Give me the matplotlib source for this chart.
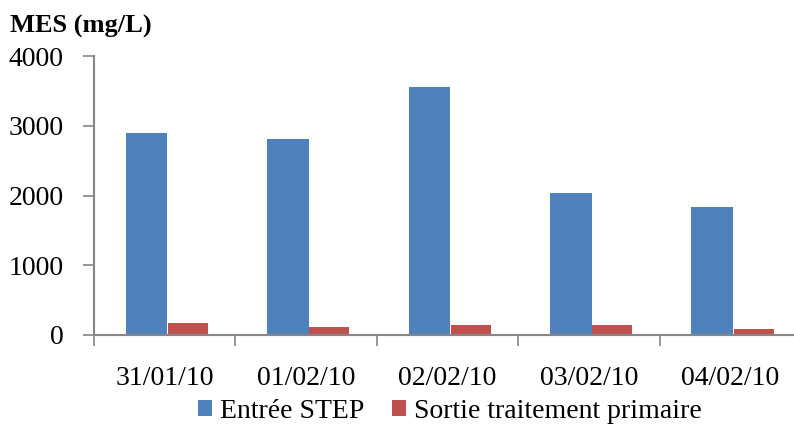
import matplotlib
matplotlib.use('Agg')
import matplotlib.pyplot as plt
import numpy as np

# Data
dates = ['31/01/10', '01/02/10', '02/02/10', '03/02/10', '04/02/10']
entree_step = [2900, 2805, 3552, 2035, 1840]
sortie_primaire = [172, 120, 148, 148, 88]
series_labels = ['Entrée STEP', 'Sortie traitement primaire']
y_ticks = [0, 1000, 2000, 3000, 4000]

plt.rcParams['font.family'] = ['Liberation Serif', 'DejaVu Serif']

fig = plt.figure(figsize=(7.94, 4.28), dpi=100)
# axes extends a bit past the right edge, like the original
ax = fig.add_axes([94 / 794, 93 / 428, 707 / 794, 279 / 428])

x = np.arange(len(dates))
ax.bar(x - 0.128, entree_step, width=0.295, color='#4F81BD', label=series_labels[0])
ax.bar(x + 0.165, sortie_primaire, width=0.283, color='#C0504D', label=series_labels[1])

ax.set_xlim(-0.5, len(dates) - 0.5)
ax.set_ylim(0, 4000)
ax.set_yticks(y_ticks)
ax.set_xticks(x)
ax.set_xticklabels(dates)
ax.set_xticks(np.arange(len(dates)) - 0.5, minor=True)

for s in ['top', 'right']:
    ax.spines[s].set_visible(False)
for s in ['left', 'bottom']:
    ax.spines[s].set_color('#868686')
    ax.spines[s].set_linewidth(1.5)

ax.tick_params(axis='y', direction='out', length=8, width=1.2, color='#868686',
               labelsize=20, pad=14)
ax.tick_params(axis='x', which='major', length=0, labelsize=20, pad=22)
ax.tick_params(axis='x', which='minor', direction='out', length=8, width=1.2,
               color='#868686')

fig.text(10 / 794, 1 - 26 / 428, 'MES (mg/L)', fontsize=19, fontweight='bold',
         va='center', ha='left')

ax.legend(loc='center', bbox_to_anchor=(450 / 794, 1 - 411 / 428),
          bbox_transform=fig.transFigure, ncol=2, frameon=False, fontsize=20,
          handlelength=0.5, handleheight=0.5, handletextpad=0.3,
          columnspacing=1.0, borderpad=0)

fig.savefig('out.png', dpi=100)
